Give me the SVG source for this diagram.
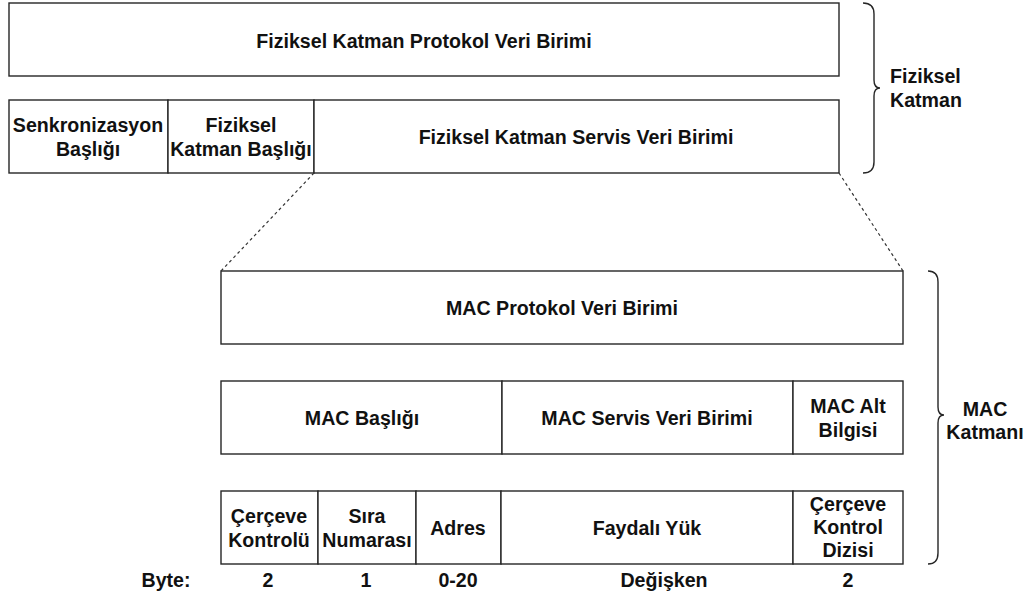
<svg xmlns="http://www.w3.org/2000/svg" width="1029" height="599" viewBox="0 0 1029 599">
  <style>
    .box { fill: #ffffff; stroke: #262626; stroke-width: 1.4; }
    .dash { stroke: #333333; stroke-width: 1.2; stroke-dasharray: 3 3; fill: none; }
    .brace { stroke: #262626; stroke-width: 1.4; fill: none; }
    text { font-family: "Liberation Sans", Arial, sans-serif; font-weight: bold; font-size: 19.6px; fill: #111111; text-anchor: middle; }
    .lbl { text-anchor: start; }
  </style>
  <rect width="1029" height="599" fill="#ffffff"/>

  <!-- Physical layer PDU -->
  <g id="phy-pdu">
    <rect class="box" x="9" y="3" width="830" height="73"/>
    <text x="424" y="48">Fiziksel Katman Protokol Veri Birimi</text>
  </g>

  <!-- Physical layer frame fields -->
  <g id="phy-sync">
    <rect class="box" x="9" y="100" width="159" height="73"/>
    <text x="88" y="132">Senkronizasyon</text>
    <text x="88" y="156">Başlığı</text>
  </g>
  <g id="phy-header">
    <rect class="box" x="168" y="100" width="146" height="73"/>
    <text x="241" y="132">Fiziksel</text>
    <text x="241" y="156">Katman Başlığı</text>
  </g>
  <g id="phy-sdu">
    <rect class="box" x="314" y="100" width="525" height="73"/>
    <text x="576" y="144">Fiziksel Katman Servis Veri Birimi</text>
  </g>

  <!-- Physical layer brace and label -->
  <g id="phy-brace">
    <path class="brace" d="M863,3 Q874,3 874,14 L874,80 Q874,88 880,88 Q874,88 874,96 L874,162 Q874,173 863,173"/>
    <text class="lbl" x="890" y="83">Fiziksel</text>
    <text class="lbl" x="890" y="107">Katman</text>
  </g>

  <!-- MAC layer PDU -->
  <g id="mac-pdu">
    <rect class="box" x="221" y="271" width="682" height="73"/>
    <text x="562" y="315">MAC Protokol Veri Birimi</text>
  </g>

  <!-- MAC frame parts -->
  <g id="mac-header">
    <rect class="box" x="221" y="381" width="281" height="73"/>
    <text x="362" y="425">MAC Başlığı</text>
  </g>
  <g id="mac-sdu">
    <rect class="box" x="502" y="381" width="291" height="73"/>
    <text x="647" y="425">MAC Servis Veri Birimi</text>
  </g>
  <g id="mac-footer">
    <rect class="box" x="793" y="381" width="110" height="73"/>
    <text x="848" y="413">MAC Alt</text>
    <text x="848" y="437">Bilgisi</text>
  </g>

  <!-- MAC frame fields -->
  <g id="fld-fc">
    <rect class="box" x="221" y="491" width="97" height="73"/>
    <text x="269" y="523">Çerçeve</text>
    <text x="269" y="547">Kontrolü</text>
  </g>
  <g id="fld-seq">
    <rect class="box" x="318" y="491" width="98" height="73"/>
    <text x="367" y="523">Sıra</text>
    <text x="367" y="547">Numarası</text>
  </g>
  <g id="fld-addr">
    <rect class="box" x="416" y="491" width="85" height="73"/>
    <text x="458" y="535">Adres</text>
  </g>
  <g id="fld-payload">
    <rect class="box" x="501" y="491" width="292" height="73"/>
    <text x="647" y="535">Faydalı Yük</text>
  </g>
  <g id="fld-fcs">
    <rect class="box" x="793" y="491" width="110" height="73"/>
    <text x="848" y="511">Çerçeve</text>
    <text x="848" y="534">Kontrol</text>
    <text x="848" y="557">Dizisi</text>
  </g>

  <!-- MAC layer brace and label -->
  <g id="mac-brace">
    <path class="brace" d="M928,271 Q938,271 938,282 L938,407 Q938,415 944,415 Q938,415 938,423 L938,553 Q938,564 928,564"/>
    <text x="985" y="416">MAC</text>
    <text x="985" y="439">Katmanı</text>
  </g>

  <!-- Byte sizes -->
  <g id="byte-row">
    <text x="166" y="587">Byte:</text>
    <text x="268" y="587">2</text>
    <text x="366" y="587">1</text>
    <text x="458" y="587">0-20</text>
    <text x="664" y="587">Değişken</text>
    <text x="848" y="587">2</text>
  </g>

  <!-- Zoom connectors -->
  <g id="connectors">
    <line class="dash" x1="314" y1="173" x2="221" y2="271"/>
    <line class="dash" x1="839" y1="173" x2="903" y2="271"/>
  </g>
</svg>
